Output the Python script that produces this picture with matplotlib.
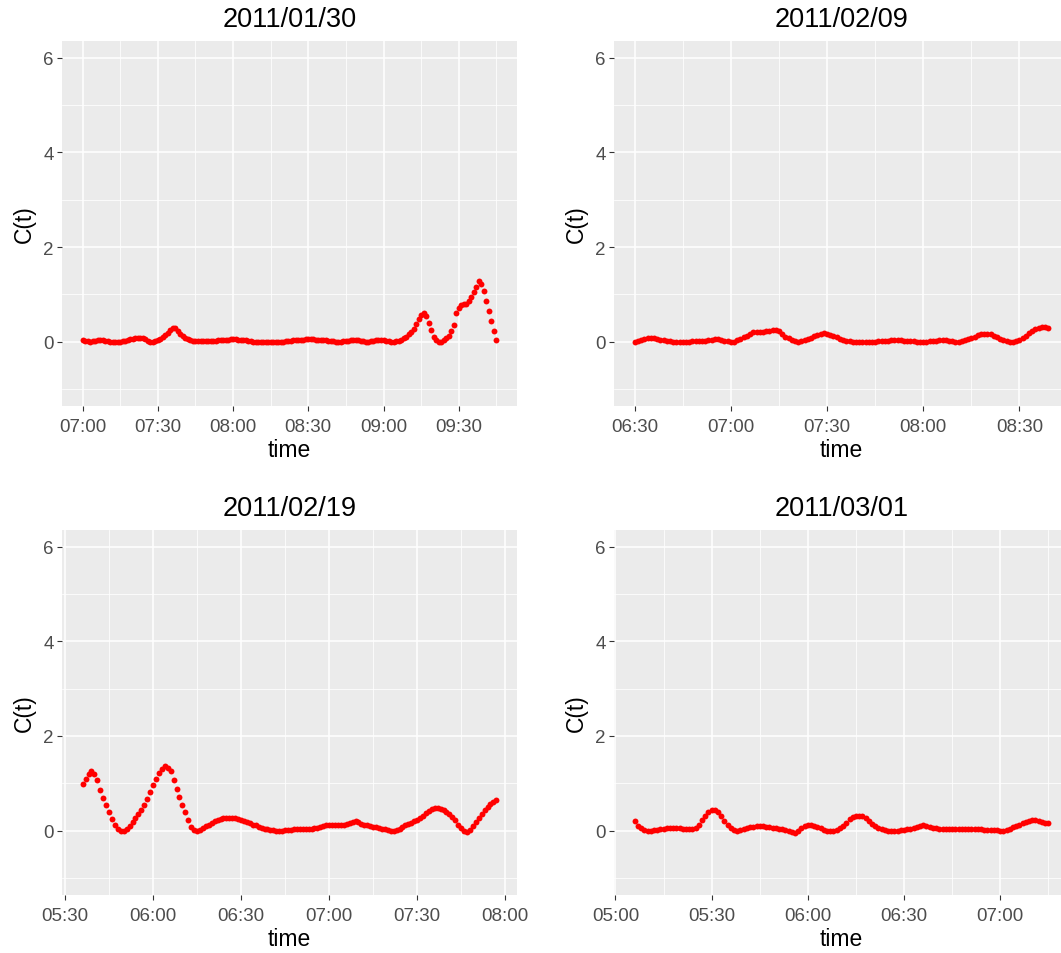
import numpy as np
import matplotlib
matplotlib.use("Agg")
import matplotlib.pyplot as plt
import matplotlib.dates as mdates
from matplotlib.ticker import MultipleLocator

plt.rcParams['font.family'] = ['Liberation Sans', 'DejaVu Sans']

titles = ["2011/01/30", "2011/02/09", "2011/02/19", "2011/03/01"]
starts = ["2011-01-30T07:00", "2011-02-09T06:30", "2011-02-19T05:36", "2011-03-01T05:06"]
step_minutes = 1

c_0130 = [0.04, 0.02, 0.01, 0.00, 0.01, 0.02, 0.03, 0.03, 0.03, 0.02,
          0.01, 0.00, 0.00, 0.00, 0.00, 0.00, 0.01, 0.02, 0.03, 0.05,
          0.06, 0.07, 0.08, 0.08, 0.07, 0.05, 0.02, 0.00, -0.01, 0.01,
          0.04, 0.06, 0.10, 0.14, 0.19, 0.25, 0.29, 0.28, 0.22, 0.17,
          0.12, 0.08, 0.05, 0.03, 0.02, 0.01, 0.01, 0.01, 0.01, 0.01,
          0.01, 0.02, 0.02, 0.02, 0.03, 0.03, 0.03, 0.04, 0.04, 0.05,
          0.05, 0.05, 0.04, 0.04, 0.03, 0.03, 0.02, 0.01, 0.00, 0.00,
          0.00, 0.00, 0.00, 0.00, 0.00, 0.00, 0.00, 0.00, 0.00, 0.00,
          0.00, 0.01, 0.01, 0.02, 0.03, 0.03, 0.03, 0.04, 0.04, 0.05,
          0.05, 0.05, 0.05, 0.04, 0.04, 0.04, 0.03, 0.03, 0.02, 0.02,
          0.01, 0.00, 0.00, 0.00, 0.01, 0.01, 0.02, 0.03, 0.03, 0.03,
          0.03, 0.02, 0.01, 0.00, 0.00, 0.01, 0.02, 0.03, 0.04, 0.04,
          0.03, 0.02, 0.01, 0.00, 0.00, 0.01, 0.02, 0.04, 0.07, 0.11,
          0.16, 0.21, 0.27, 0.38, 0.48, 0.57, 0.61, 0.54, 0.40, 0.24,
          0.10, 0.03, 0.00, -0.01, 0.03, 0.07, 0.13, 0.22, 0.35, 0.60,
          0.72, 0.77, 0.79, 0.80, 0.86, 0.95, 1.06, 1.16, 1.29, 1.22,
          1.08, 0.86, 0.65, 0.44, 0.22, 0.04]

c_0209 = [0.00, 0.02, 0.04, 0.06, 0.07, 0.08, 0.07, 0.06, 0.04, 0.03,
          0.02, 0.01, 0.00, 0.00, 0.00, 0.00, 0.00, 0.00, 0.01, 0.01,
          0.01, 0.02, 0.02, 0.03, 0.04, 0.05, 0.05, 0.04, 0.02, 0.01,
          0.00, 0.00, 0.03, 0.06, 0.09, 0.13, 0.17, 0.20, 0.21, 0.21,
          0.21, 0.22, 0.23, 0.24, 0.25, 0.22, 0.16, 0.11, 0.07, 0.03,
          0.01, 0.00, 0.01, 0.03, 0.05, 0.08, 0.12, 0.15, 0.17, 0.18,
          0.17, 0.15, 0.12, 0.09, 0.06, 0.04, 0.02, 0.01, 0.00, 0.00,
          0.00, 0.00, 0.00, 0.00, 0.00, 0.00, 0.01, 0.01, 0.02, 0.02,
          0.03, 0.03, 0.03, 0.03, 0.02, 0.02, 0.01, 0.01, 0.00, 0.00,
          0.00, 0.00, 0.01, 0.01, 0.02, 0.03, 0.03, 0.03, 0.02, 0.01,
          0.00, 0.00, 0.02, 0.04, 0.06, 0.08, 0.11, 0.14, 0.16, 0.17,
          0.17, 0.16, 0.13, 0.10, 0.06, 0.04, 0.02, 0.00, -0.01, 0.01,
          0.04, 0.08, 0.13, 0.18, 0.22, 0.26, 0.29, 0.31, 0.32, 0.29]

c_0219 = [0.99, 1.10, 1.20, 1.25, 1.20, 1.08, 0.86, 0.70, 0.55, 0.40,
          0.25, 0.12, 0.04, 0.00, -0.01, 0.03, 0.10, 0.18, 0.26, 0.35,
          0.44, 0.55, 0.67, 0.81, 0.96, 1.10, 1.22, 1.31, 1.37, 1.33,
          1.25, 1.08, 0.88, 0.72, 0.55, 0.40, 0.22, 0.08, 0.01, -0.01,
          0.02, 0.05, 0.09, 0.13, 0.17, 0.20, 0.23, 0.25, 0.26, 0.27,
          0.27, 0.27, 0.26, 0.25, 0.23, 0.21, 0.19, 0.16, 0.13, 0.11,
          0.08, 0.06, 0.04, 0.03, 0.02, 0.01, 0.00, 0.00, 0.00, 0.01,
          0.02, 0.02, 0.03, 0.03, 0.03, 0.03, 0.03, 0.03, 0.04, 0.05,
          0.06, 0.08, 0.10, 0.11, 0.12, 0.13, 0.13, 0.13, 0.13, 0.13,
          0.14, 0.16, 0.19, 0.21, 0.18, 0.15, 0.13, 0.11, 0.10, 0.08,
          0.07, 0.06, 0.04, 0.03, 0.01, 0.00, -0.01, 0.01, 0.04, 0.08,
          0.11, 0.14, 0.17, 0.20, 0.23, 0.26, 0.31, 0.37, 0.42, 0.46,
          0.47, 0.47, 0.46, 0.44, 0.40, 0.35, 0.29, 0.22, 0.13, 0.05,
          0.00, -0.02, 0.02, 0.09, 0.18, 0.27, 0.35, 0.44, 0.51, 0.57,
          0.61, 0.64]

c_0301 = [0.20, 0.10, 0.05, 0.02, 0.00, 0.00, 0.01, 0.02, 0.03, 0.04,
          0.05, 0.05, 0.05, 0.05, 0.05, 0.04, 0.04, 0.03, 0.03, 0.06,
          0.13, 0.22, 0.32, 0.40, 0.44, 0.44, 0.39, 0.31, 0.21, 0.12,
          0.05, 0.01, -0.01, 0.01, 0.03, 0.05, 0.07, 0.08, 0.09, 0.09,
          0.09, 0.08, 0.07, 0.06, 0.05, 0.04, 0.03, 0.01, -0.01, -0.03,
          -0.04, 0.00, 0.06, 0.10, 0.12, 0.11, 0.10, 0.08, 0.05, 0.02,
          0.00, -0.01, 0.00, 0.02, 0.05, 0.10, 0.17, 0.24, 0.29, 0.31,
          0.32, 0.30, 0.26, 0.21, 0.15, 0.10, 0.06, 0.03, 0.01, 0.00,
          0.00, 0.00, 0.00, 0.01, 0.02, 0.03, 0.04, 0.06, 0.08, 0.10,
          0.11, 0.10, 0.08, 0.06, 0.05, 0.04, 0.04, 0.04, 0.04, 0.04,
          0.04, 0.04, 0.04, 0.04, 0.04, 0.04, 0.03, 0.03, 0.03, 0.02,
          0.02, 0.02, 0.01, 0.01, 0.00, 0.00, 0.01, 0.04, 0.07, 0.10,
          0.13, 0.16, 0.19, 0.21, 0.23, 0.23, 0.21, 0.19, 0.17, 0.16]

series = [c_0130, c_0209, c_0219, c_0301]
y_limits = (-1, 6)
y_ticks = [0, 2, 4, 6]

W, H = 1061, 954
fig = plt.figure(figsize=(W / 100, H / 100), dpi=100)

# panel boxes in pixels: (left, top, right, bottom)
boxes = [(62, 42, 517, 406.7), (614, 42, 1069, 406.7),
         (62, 531, 517, 895.6), (614, 531, 1069, 895.6)]

for title, start, vals, (l, t, r, b) in zip(titles, starts, series, boxes):
    ax = fig.add_axes([l / W, 1 - b / H, (r - l) / W, (b - t) / H])
    ax.set_facecolor('#EBEBEB')
    times = np.datetime64(start) + np.arange(len(vals)) * np.timedelta64(step_minutes, 'm')
    tn = mdates.date2num(times.astype('datetime64[s]').astype(object))
    ax.scatter(tn, vals, s=18, color='red', linewidths=0, zorder=3)
    pad = 0.05 * (tn[-1] - tn[0])
    ax.set_xlim(tn[0] - pad, tn[-1] + pad)
    ypad = 0.05 * (y_limits[1] - y_limits[0])
    ax.set_ylim(y_limits[0] - ypad, y_limits[1] + ypad)
    ax.set_yticks(y_ticks)
    ax.yaxis.set_minor_locator(MultipleLocator(2, offset=1))
    ax.xaxis.set_major_locator(mdates.MinuteLocator(byminute=[0, 30]))
    ax.xaxis.set_minor_locator(mdates.MinuteLocator(byminute=[15, 45]))
    ax.xaxis.set_major_formatter(mdates.DateFormatter('%H:%M'))
    ax.set_axisbelow(True)
    ax.grid(which='major', color='white', linewidth=1.1)
    ax.grid(which='minor', color='white', linewidth=0.55)
    for sp in ax.spines.values():
        sp.set_visible(False)
    ax.tick_params(which='major', length=3.6, width=0.8, color='#333333',
                   labelcolor='#4D4D4D', labelsize=13.5, pad=2.5)
    ax.tick_params(axis='x', which='major', pad=5.5)
    ax.tick_params(which='minor', length=0)
    ax.set_title(title, fontsize=19.5, pad=10.5, color='black')
    ax.set_xlabel('time', fontsize=16.5, labelpad=2)
    ax.set_ylabel('C(t)', fontsize=16.5, labelpad=5)

fig.savefig('out.png', dpi=100)
